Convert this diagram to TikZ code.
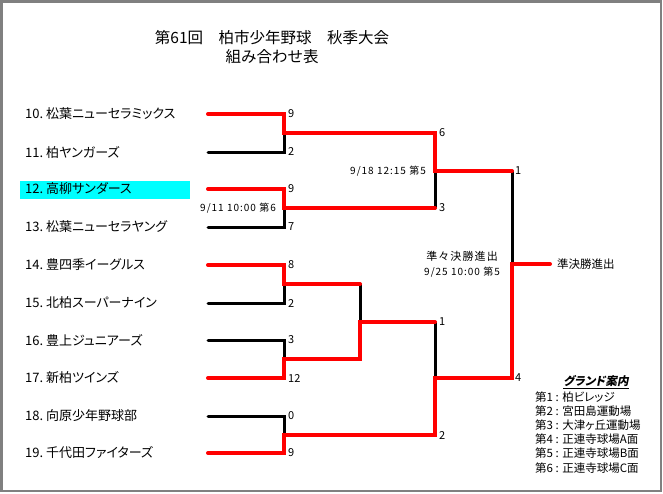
\documentclass[tikz,border=0pt]{standalone}
\usepackage{fontspec}
\setmainfont[RawFeature=+palt]{Noto Sans CJK JP}
\newfontfamily\titlefont{Noto Sans CJK JP}
\newfontfamily\datefont[LetterSpace=10]{Noto Sans CJK JP}
\newfontfamily\headfont[FakeSlant=0.2,RawFeature=+palt]{Noto Sans CJK JP}
\usetikzlibrary{positioning}
\definecolor{winRed}{RGB}{255,0,0}
\definecolor{markCyan}{RGB}{0,255,255}
\definecolor{frameGray}{RGB}{128,128,128}
\tikzset{
  winLine/.style={draw=winRed,line width=4pt,line cap=round},
  loseLine/.style={draw=black,line width=3pt,line cap=round},
  frameLine/.style={draw=frameGray,line width=2.5pt},
  titleText/.style={inner sep=0pt,font=\titlefont\fontsize{15.5}{18}\selectfont},
  team/.style={anchor=west,inner sep=0pt,font=\fontsize{13}{15}\selectfont},
  score/.style={anchor=west,inner sep=0pt,font=\fontsize{11}{13}\selectfont},
  dateText/.style={inner sep=0pt,font=\datefont\fontsize{10}{15}\selectfont},
  legendItem/.style={anchor=west,inner sep=0pt,font=\fontsize{11.5}{14}\selectfont},
}
\begin{document}
\begin{tikzpicture}[x=1pt,y=-1pt]
\useasboundingbox (0,0) rectangle (663,493);
\draw[frameLine] (1.25,1.25) rectangle (660.75,490.75);

\node[titleText] (nTitleA) at (272,38) {第61回　柏市少年野球　秋季大会};
\node[titleText] (nTitleB) at (272,57) {組み合わせ表};

\fill[markCyan] (20,181) rectangle (190,199);

\foreach \v/\u/\t in
{   10/114/松葉ニューセラミックス,
    11/152/柏ヤンガーズ,
    12/189/高柳サンダース,
    13/227/松葉ニューセラヤング,
    14/265/豊四季イーグルス,
    15/303/北柏スーパーナイン,
    16/340/豊上ジュニアーズ,
    17/378/新柏ツインズ,
    18/416/向原少年野球部,
    19/453/千代田ファイターズ
}
{
    \node[team] (nT\v) at (25,\u) {\v.\ \t};
    \coordinate (cT\v) at (208,\u);
};

\coordinate (cM1) at (284,133);
\coordinate (cM2) at (284,208);
\coordinate (cM3) at (284,284);
\coordinate (cM4) at (284,359);
\coordinate (cM5) at (284,435);
\coordinate (cN1) at (360,322);
\coordinate (cQ1) at (435,171);
\coordinate (cQ2) at (435,378);
\coordinate (cF) at (512,264);
\coordinate (cE) at (550,264);

% losers
\draw[loseLine] (cT11) -| (cM1);
\draw[loseLine] (cT13) -| (cM2);
\draw[loseLine] (cM2 -| cQ1) -- (cQ1);
\draw[loseLine] (cT15) -| (cM3);
\draw[loseLine] (cM3 -| cN1) -- (cN1);
\draw[loseLine] (cT16) -| (cM4);
\draw[loseLine] (cT18) -| (cM5);
\draw[loseLine] (cN1 -| cQ2) -- (cQ2);
\draw[loseLine] (cQ1 -| cF) -- (cF);

% winners
\draw[winLine] (cT10) -| (cM1) -| (cQ1) -- (cQ1 -| cF);
\draw[winLine] (cT12) -| (cM2) -- (cM2 -| cQ1);
\draw[winLine] (cT14) -| (cM3) -- (cM3 -| cN1);
\draw[winLine] (cT17) -| (cM4) -| (cN1) -- (cN1 -| cQ2);
\draw[winLine] (cT19) -| (cM5) -| (cQ2) -| (cF) -- (cE);

\foreach \x/\u/\t [count=\i] in
{   288/114/9, 288/152/2, 288/189/9, 288/227/7, 288/265/8,
    288/303/2, 288/340/3, 288/378/12, 288/416/0, 288/453/9,
    439/133/6, 439/208/3, 439/322/1, 439/435/2,
    515/171/1, 515/378/4
}
{
    \node[score] (nS\i) at (\x,\u) {\t};
};

\node[dateText,left=8pt of cM2] (nDateA) {9/11 10:00 第6};
\node[dateText,left=9pt of cQ1] (nDateB) {9/18 12:15 第5};
\node[dateText,align=center,left=12pt of cF] (nDateC)
    {{\fontsize{11}{15}\selectfont 準々決勝進出}\\9/25 10:00 第5};
\node[team,right=7pt of cE,font=\fontsize{11.5}{14}\selectfont] (nSemi) {準決勝進出};

\node[inner sep=0pt,font=\headfont\bfseries\fontsize{11.5}{14}\selectfont] (nLegend) at (596,382) {\underline{グランド案内}};
\foreach \u/\t [count=\i] in
{   397/第1 : 柏ビレッジ,
    411/第2 : 宮田島運動場,
    425/第3 : 大津ヶ丘運動場,
    439/第4 : 正連寺球場A面,
    453/第5 : 正連寺球場B面,
    468/第6 : 正連寺球場C面
}
{
    \node[legendItem] (nL\i) at (535,\u) {\t};
};
\end{tikzpicture}
\end{document}
